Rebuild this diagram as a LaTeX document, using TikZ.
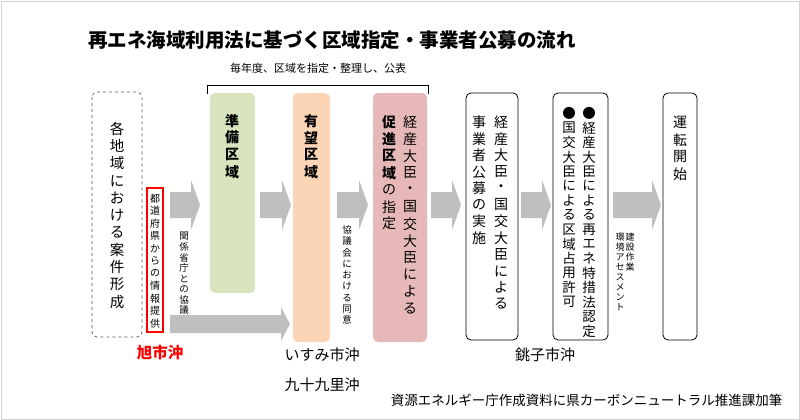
\documentclass[tikz,border=0pt]{standalone}
\usepackage{fontspec}
\setmainfont{Noto Sans CJK JP}
\makeatletter
\newdimen\vpitch
\newcommand\vtext[2]{\vpitch=#1pt\vbox{\offinterlineskip\vtextloop#2\@nil}}
\def\vtextloop#1{\ifx#1\@nil\else\vbox to\vpitch{\vss\hbox to 1.1em{\hss#1\hss}\vss}\expandafter\vtextloop\fi}
\makeatother
\definecolor{arrowgray}{HTML}{BFBFBF}
\definecolor{gbox}{HTML}{D7E4BD}
\definecolor{obox}{HTML}{FBD5B5}
\definecolor{pbox}{HTML}{E6B9B8}
\tikzset{
 stage/.style={rounded corners=5pt, line width=0.8pt},
 vt/.style={anchor=north, inner sep=0pt},
}
\newcommand\garrow[5]{\fill[arrowgray] (#1,#3-#4) -- (#2-9,#3-#4) -- (#2-9,#3-#5) -- (#2,#3) -- (#2-9,#3+#5) -- (#2-9,#3+#4) -- (#1,#3+#4) -- cycle;}
\begin{document}
\begin{tikzpicture}[x=1pt,y=-1pt]
\useasboundingbox (0,0) rectangle (800,420);
\draw[gray!35] (1,1) rectangle (799,419);
\node[font=\bfseries\fontsize{19.5}{21}\selectfont] (title) at (332,40) {再エネ海域利用法に基づく区域指定・事業者公募の流れ};
\node[font=\fontsize{11}{12}\selectfont] (yearly) at (318,68) {毎年度、区域を指定・整理し、公表};
\draw[line width=0.9pt] (207,94) -- (207,85) -- (428,85) -- (428,94);
% boxes
\draw[stage,dashed,gray!70!black,line width=0.7pt] (92,92) rectangle (142,337);
\node[vt,font=\fontsize{14.5}{15}\selectfont] (t1) at (117,120) {\vtext{17.3}{各地域における案件形成}};
\draw[red,line width=1.4pt] (147,188) rectangle (163,332);
\node[vt,font=\fontsize{10}{11}\selectfont] (t2) at (155,192) {\vtext{12.5}{都道府県からの情報提供}};
\fill[stage,gbox] (210,93) rectangle (255,293);
\node[vt,font=\bfseries\fontsize{14}{15}\selectfont] (g) at (232,112) {\vtext{17}{準備区域}};
\fill[stage,obox] (293,93) rectangle (330,342);
\node[vt,font=\bfseries\fontsize{14}{15}\selectfont] (o) at (311,112) {\vtext{17}{有望区域}};
\fill[stage,pbox] (373,93) rectangle (427,342);
\node[vt,font=\fontsize{14}{15}\selectfont] (p1) at (410,113) {\vtext{17}{経産大臣・国交大臣による}};
\node[vt,font=\fontsize{14}{15}\selectfont] (p2) at (389,113) {\vtext{17}{{\bfseries 促}{\bfseries 進}{\bfseries 区}{\bfseries 域}の指定}};
\draw[stage] (466,93) rectangle (518,340);
\node[vt,font=\fontsize{14}{15}\selectfont] (b1) at (501,114) {\vtext{16.5}{経産大臣・国交大臣による}};
\node[vt,font=\fontsize{14}{15}\selectfont] (b2) at (479,114) {\vtext{16.5}{事業者公募の実施}};
\draw[stage] (553,93) rectangle (608,340);
\node[vt,font=\fontsize{13.5}{14}\selectfont] (c1) at (589,106) {\vtext{14.5}{●経産大臣による再エネ特措法認定}};
\node[vt,font=\fontsize{13.5}{14}\selectfont] (c2) at (569,106) {\vtext{14.5}{●国交大臣による区域占用許可}};
\draw[stage] (663,93) rectangle (697,340);
\node[vt,font=\fontsize{14}{15}\selectfont] (d1) at (680,114) {\vtext{17}{運転開始}};
% arrows
\garrow{170}{200}{205}{13}{25}
\garrow{260}{291}{205}{13}{25}
\garrow{337}{368}{205}{13}{25}
\garrow{431}{461}{205}{13}{25}
\garrow{521}{551}{205}{13}{25}
\garrow{613}{661}{205}{13}{25}
\garrow{170}{290}{324}{9}{17}
% arrow labels
\node[vt,font=\fontsize{9.5}{10}\selectfont] (l1) at (184,231) {\vtext{10.5}{関係省庁との協議}};
\node[vt,font=\fontsize{9.5}{10}\selectfont] (l2) at (347,224) {\vtext{11.3}{協議会における同意}};
\node[vt,font=\fontsize{9}{10}\selectfont] (l3) at (630,232) {\vtext{10}{建設作業}};
\node[vt,font=\fontsize{9}{10}\selectfont] (l4) at (620,232) {\vtext{10}{環境アセスメント}};
% bottom labels
\node[font=\bfseries\fontsize{15.5}{17}\selectfont,text=red] (asahi) at (160,353) {旭市沖};
\node[font=\fontsize{15}{17}\selectfont] (isumi) at (322,355) {いすみ市沖};
\node[font=\fontsize{15}{17}\selectfont] (kujukuri) at (322,385) {九十九里沖};
\node[font=\fontsize{15}{17}\selectfont] (choshi) at (545,355) {銚子市沖};
\node[font=\fontsize{13.5}{15}\selectfont,anchor=east] (src) at (786,400) {資源エネルギー庁作成資料に県カーボンニュートラル推進課加筆};
\end{tikzpicture}
\end{document}
